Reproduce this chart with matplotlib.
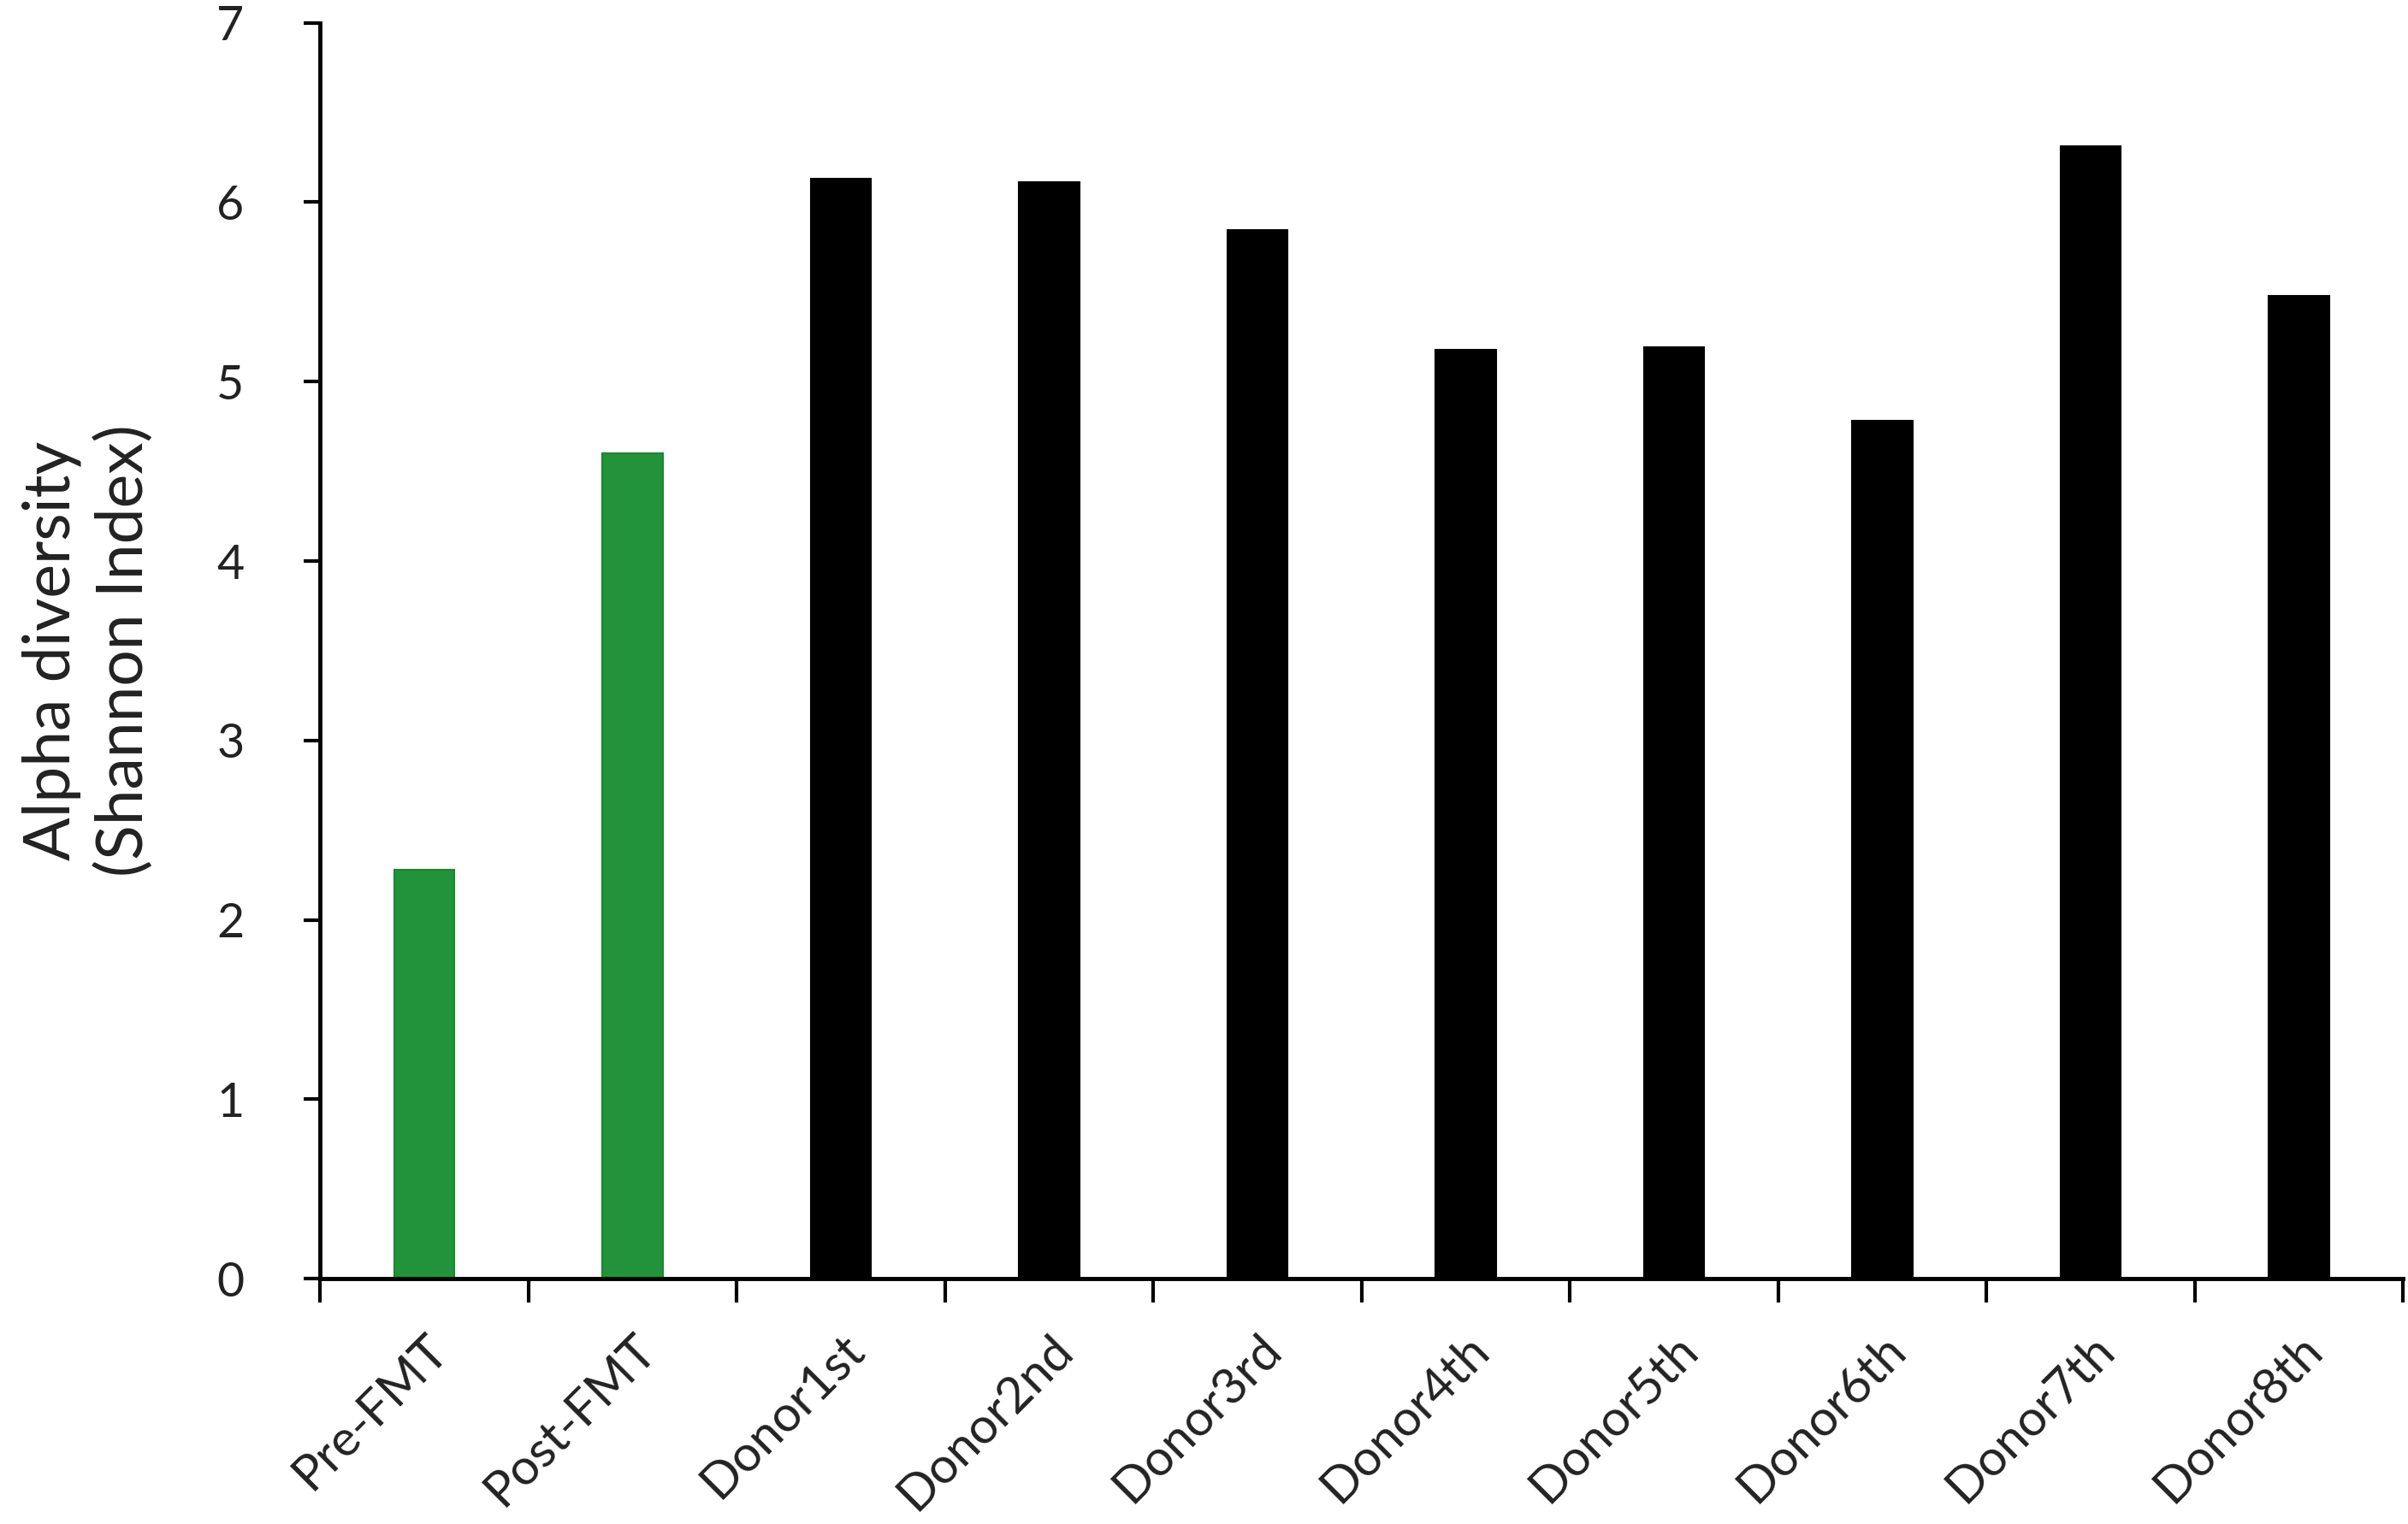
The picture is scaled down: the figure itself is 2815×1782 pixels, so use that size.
import numpy as np
import matplotlib.pyplot as plt

# data
groups = ['Pre-FMT', 'Post-FMT', 'Donor1st', 'Donor2nd', 'Donor3rd',
          'Donor4th', 'Donor5th', 'Donor6th', 'Donor7th', 'Donor8th']
shannon = [2.28, 4.60, 6.13, 6.11, 5.845, 5.18, 5.19, 4.78, 6.31, 5.48]
bar_colors = ['#22933a', '#22933a'] + ['#000000'] * 8
edge_colors = ['#178a2c', '#178a2c'] + ['#000000'] * 8

plt.rcParams['font.family'] = ['Lato', 'DejaVu Sans']

fig = plt.figure(figsize=(28.15, 17.82), dpi=100)
ax = fig.add_axes([0.133, 0.161, 0.865, 0.824])

x = np.arange(len(groups))
ax.bar(x, shannon, width=0.29, color=bar_colors, edgecolor=edge_colors,
       linewidth=1.5, zorder=2)

ax.set_xlim(-0.5, len(groups) - 0.5)
ax.set_ylim(0, 7)
ax.set_yticks(np.arange(0, 8, 1))
ax.tick_params(axis='y', labelsize=40, length=14, width=3, pad=50,
               colors='#000000', labelcolor='#222222')

# ticks sit on the category borders, labels under the bar centres
ax.set_xticks(np.arange(-0.5, len(groups), 1))
ax.set_xticklabels([])
ax.tick_params(axis='x', length=20, width=3)
ax.set_xticks(x, minor=True)
ax.set_xticklabels(groups, minor=True, rotation=45, ha='right',
                   rotation_mode='anchor', fontsize=42, color='#222222')
ax.tick_params(axis='x', which='minor', length=0, pad=40)

for side in ['top', 'right']:
    ax.spines[side].set_visible(False)
for side in ['left', 'bottom']:
    ax.spines[side].set_linewidth(3.5)

ax.set_ylabel('Alpha diversity\n(Shannon Index)', fontsize=54,
              color='#222222', linespacing=1.25)
ax.yaxis.set_label_coords(-0.080, 0.5)

fig.savefig('out.png', dpi=100)
